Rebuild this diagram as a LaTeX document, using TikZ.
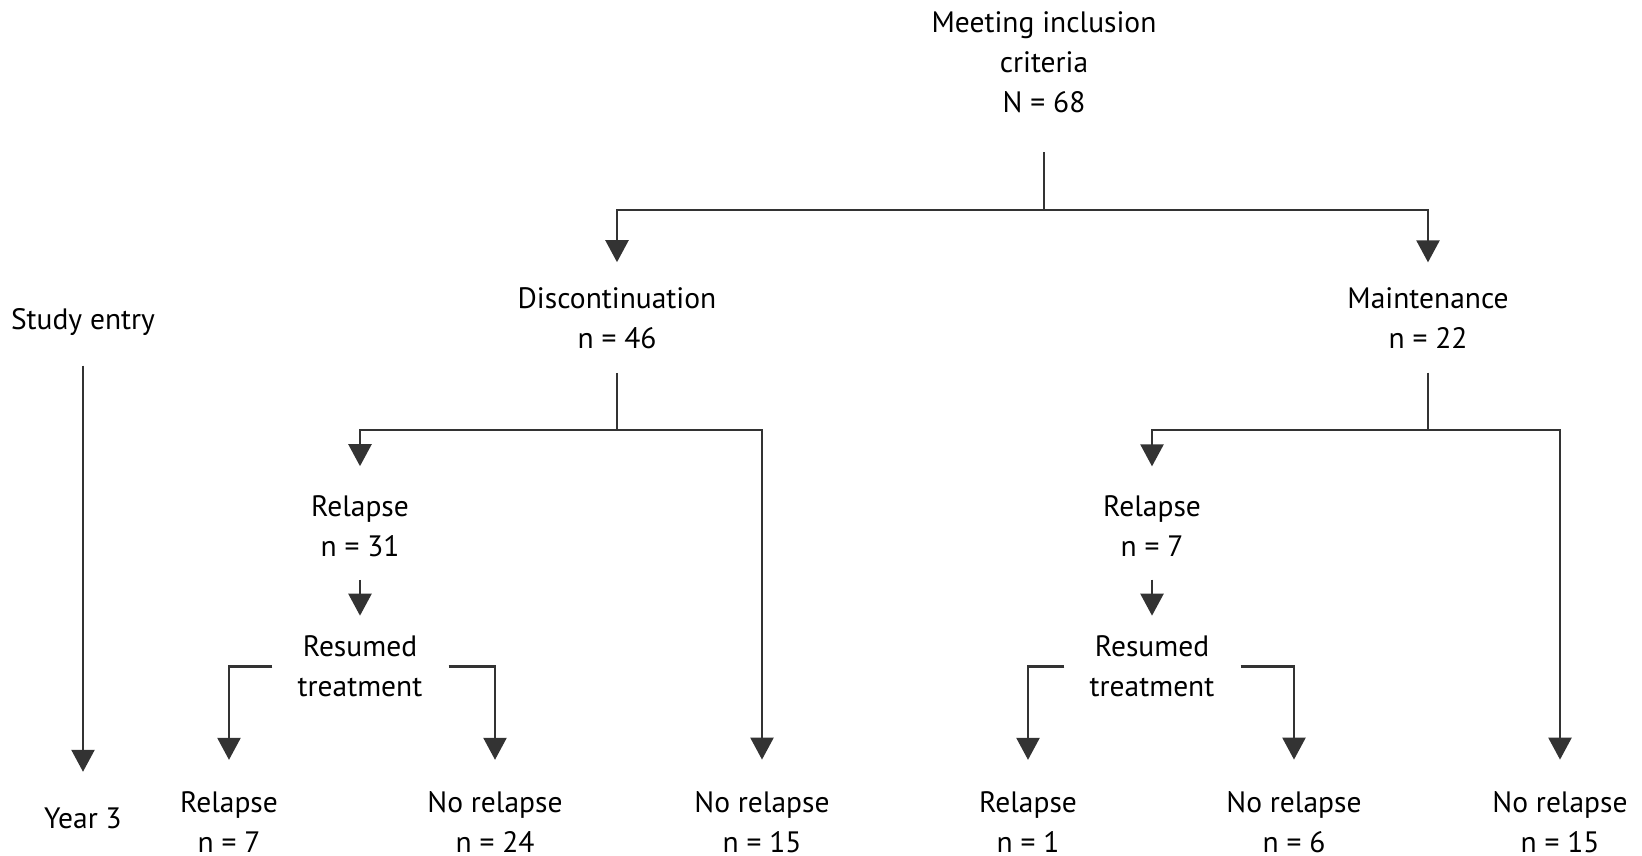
\documentclass[tikz,border=0pt]{standalone}
\usepackage{fontspec}
\setmainfont{PT Sans}
\usetikzlibrary{arrows.meta}

\begin{document}
\begin{tikzpicture}[x=1pt,y=-1pt,
    >={Triangle[width=23pt,length=22pt]},
    box/.style={inner sep=0pt,align=center,font=\fontsize{29.5}{40}\selectfont},
    link/.style={line width=2.4pt,draw=black!80}]
  \useasboundingbox (0,0) rectangle (1642,856);

  \node[box] (incl) at (1044,62.5) {Meeting inclusion\\criteria\\N = 68};
  \node[box] (disc) at (617,318) {Discontinuation\\n = 46};
  \node[box] (maint) at (1428,318) {Maintenance\\n = 22};

  \node[box] (drel) at (360,526) {Relapse\\n = 31};
  \node[box] (dres) at (360,666.5) {Resumed\\treatment};
  \node[box] (mrel) at (1152,526) {Relapse\\n = 7};
  \node[box] (mres) at (1152,666.5) {Resumed\\treatment};

  \node[box] (drel7) at (229,822.5) {Relapse\\n = 7};
  \node[box] (dno24) at (495,822.5) {No relapse\\n = 24};
  \node[box] (dno15) at (762,822.5) {No relapse\\n = 15};
  \node[box] (mrel1) at (1028,822.5) {Relapse\\n = 1};
  \node[box] (mno6) at (1294,822.5) {No relapse\\n = 6};
  \node[box] (mno15) at (1560,822.5) {No relapse\\n = 15};

  \node[box] (entry) at (83,322) {Study entry};
  \node[box] (year) at (83,818.5) {Year 3};

  \coordinate (j0) at (1044,210);
  \coordinate (j1) at (617,430);
  \coordinate (j2) at (1428,430);

  \draw[link,shorten <=39pt] (incl) -- (j0);
  \draw[link,->,shorten >=25pt] (j0) -| (disc);
  \draw[link,->,shorten >=25pt] (j0) -| (maint);

  \draw[link,shorten <=24pt] (disc) -- (j1);
  \draw[link,->,shorten >=29pt] (j1) -| (drel);
  \draw[link,->,shorten >=32pt] (j1) -| (dno15);
  \draw[link,->,shorten <=23pt,shorten >=20pt] (drel) -- (dres);
  \draw[link,->,shorten <=25pt,shorten >=32pt] (dres) -| (drel7);
  \draw[link,->,shorten <=26pt,shorten >=32pt] (dres) -| (dno24);

  \draw[link,shorten <=24pt] (maint) -- (j2);
  \draw[link,->,shorten >=29pt] (j2) -| (mrel);
  \draw[link,->,shorten >=32pt] (j2) -| (mno15);
  \draw[link,->,shorten <=23pt,shorten >=20pt] (mrel) -- (mres);
  \draw[link,->,shorten <=25pt,shorten >=32pt] (mres) -| (mrel1);
  \draw[link,->,shorten <=26pt,shorten >=32pt] (mres) -| (mno6);

  \draw[link,->,shorten <=30pt,shorten >=36pt] (entry) -- (year);
\end{tikzpicture}
\end{document}
